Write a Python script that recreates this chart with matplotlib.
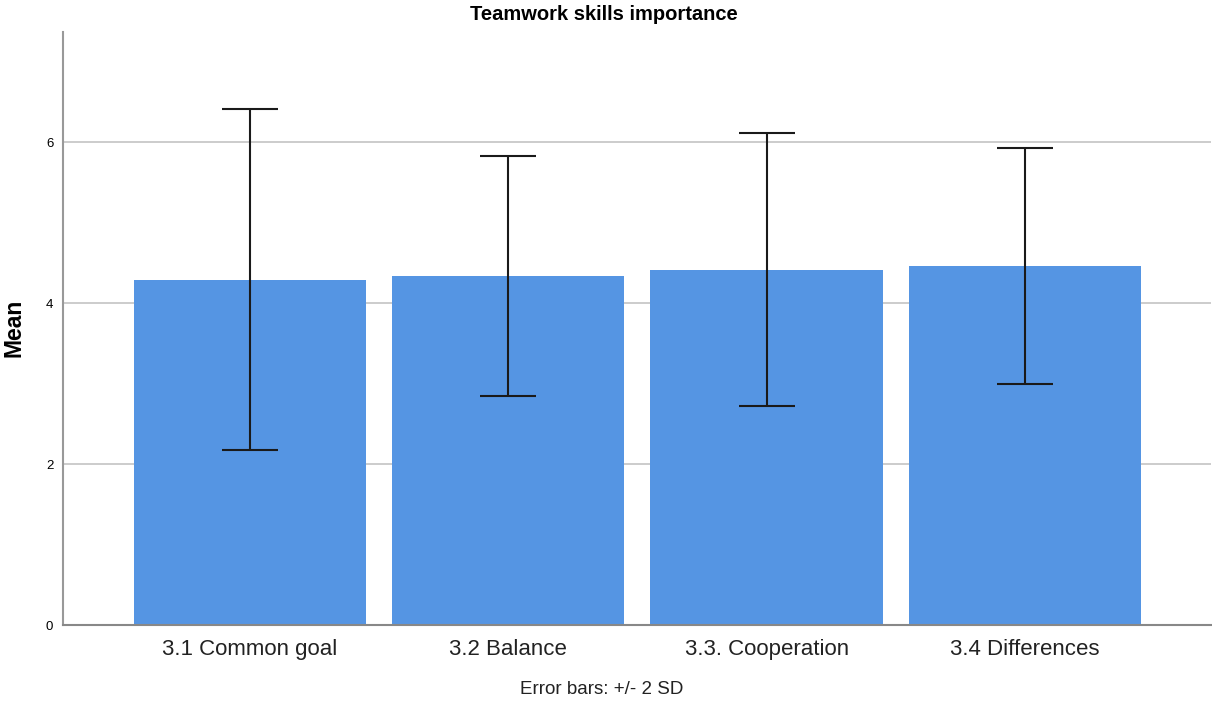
import matplotlib
matplotlib.use("Agg")
import matplotlib.pyplot as plt
import numpy as np

categories = ["3.1 Common goal", "3.2 Balance", "3.3. Cooperation", "3.4 Differences"]
means = [4.29, 4.335, 4.415, 4.46]
two_sd = [2.12, 1.495, 1.695, 1.47]
yticks = [0, 2, 4, 6]

plt.rcParams['font.family'] = ['Liberation Sans', 'DejaVu Sans']

W, H = 1212, 704
fig = plt.figure(figsize=(W / 100, H / 100), dpi=100)
ax = fig.add_axes([63 / W, 1 - 625 / H, (1211 - 63) / W, (625 - 32) / H])

x = np.arange(len(categories))
ax.bar(x, means, width=0.9, color="#5595e3", zorder=2)
ax.errorbar(x, means, yerr=two_sd, fmt="none", ecolor="#1a1a1a", elinewidth=1.5,
            capsize=20, capthick=1.5, zorder=3)

ax.set_xlim(-0.723, 3.72)
ax.set_ylim(0, 7.37)
ax.set_yticks(yticks)
ax.set_yticklabels([str(v) for v in yticks], fontsize=9.5)
ax.set_xticks(x)
ax.set_xticklabels(categories, fontsize=16, color="#222222")
ax.tick_params(axis="y", length=0, pad=7)
ax.tick_params(axis="x", length=0, pad=10)
ax.grid(axis="y", color="#c8c8c8", linewidth=1.3, zorder=0)
ax.set_axisbelow(True)

for s in ["top", "right"]:
    ax.spines[s].set_visible(False)
ax.spines["left"].set_color("#999999")
ax.spines["left"].set_linewidth(1.5)
ax.spines["bottom"].set_color("#888888")
ax.spines["bottom"].set_linewidth(1.5)

fig.text(14 / W, 1 - 328 / H, "Mean", ha="center", va="center", rotation=90,
         fontsize=16.5, fontweight="bold")
fig.text(604 / W, 1 - 14 / H, "Teamwork skills importance", ha="center", va="center",
         fontsize=14.5, fontweight="bold")
fig.text(602 / W, 1 - 690 / H, "Error bars: +/- 2 SD", ha="center", va="center",
         fontsize=13.5, color="#222222")

fig.savefig("out.png", dpi=100)
